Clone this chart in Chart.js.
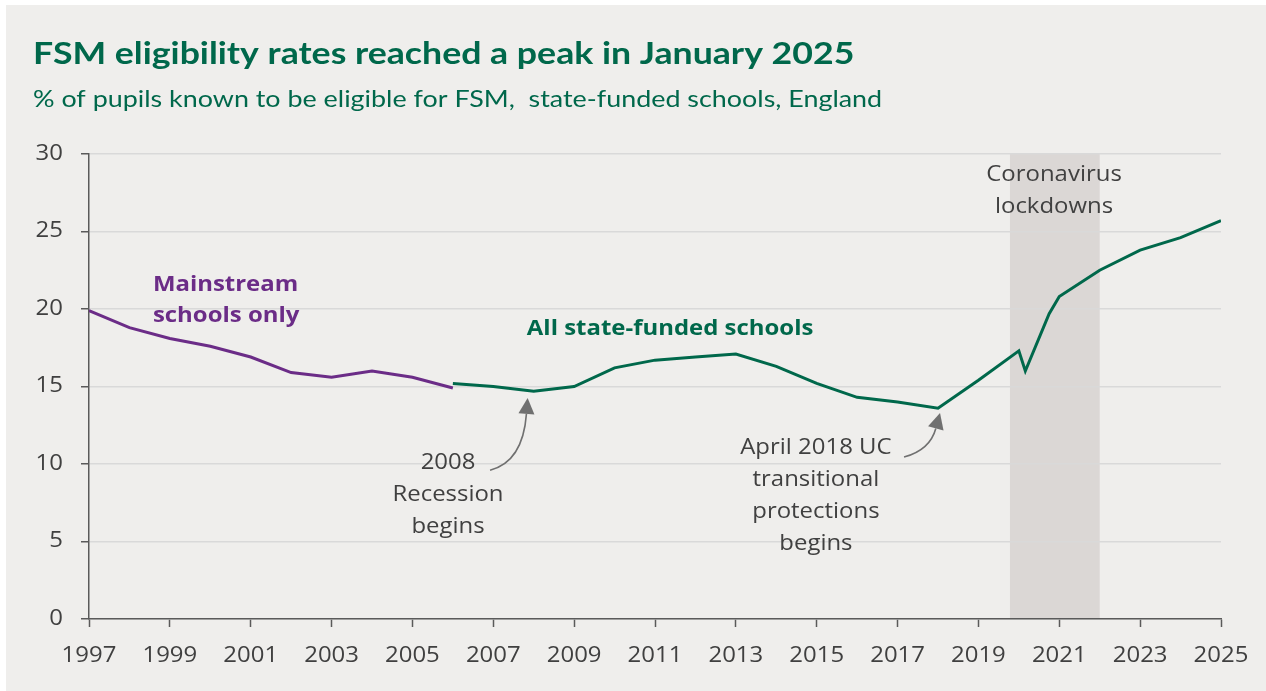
<!DOCTYPE html>
<html>
<head>
<meta charset="utf-8">
<title>FSM eligibility rates</title>
<script src="https://cdn.jsdelivr.net/npm/chart.js@4/dist/chart.umd.min.js"></script>
<style>
  html, body { margin: 0; padding: 0; background: #ffffff; }
  canvas { display: block; }
</style>
</head>
<body>
<canvas id="chart" width="1266" height="691"></canvas>
<script>
// Mainstream schools only, 1997-2006 (% of pupils eligible for FSM)
const mainstreamYears = [1997, 1998, 1999, 2000, 2001, 2002, 2003, 2004, 2005, 2006];
const mainstreamRates = [19.9, 18.8, 18.1, 17.6, 16.9, 15.9, 15.6, 16.0, 15.6, 14.9];

// All state-funded schools, 2006-2025 (extra readings during 2020)
const allYears = [2006, 2007, 2008, 2009, 2010, 2011, 2012, 2013, 2014, 2015, 2016, 2017,
                  2018, 2019, 2020, 2020.16, 2020.75, 2021, 2022, 2023, 2024, 2025];
const allRates = [15.2, 15.0, 14.7, 15.0, 16.2, 16.7, 16.9, 17.1, 16.3, 15.2, 14.3, 14.0,
                  13.6, 15.4, 17.3, 16.0, 19.7, 20.8, 22.5, 23.8, 24.6, 25.7];

// Axis ranges and tick steps
const yearRange = [1997, 2025];
const yearStep = 2;
const rateRange = [0, 30];
const rateStep = 5;

// Coronavirus lockdown period (shaded)
const lockdownSpan = [2019.78, 2022.0];

// Text
const titleText = 'FSM eligibility rates reached a peak in January 2025';
const subtitleText = '% of pupils known to be eligible for FSM,  state-funded schools, England';
const mainstreamLabel = ['Mainstream', 'schools only'];
const allLabel = ['All state-funded schools'];
const recessionNote = ['2008', 'Recession', 'begins'];
const ucNote = ['April 2018 UC', 'transitional', 'protections', 'begins'];
const lockdownNote = ['Coronavirus', 'lockdowns'];

const GREEN = '#00684b';
const PURPLE = '#6b2c87';
const TEXT = '#404040';
const AXIS = '#5a5a5a';
const GRID = '#d9d9d9';
const PANEL = '#efeeec';
const BAND = '#dbd7d5';
const ARROW = '#707070';
const BODY_FONT = '"Open Sans", "Noto Sans", sans-serif';
const HEAD_FONT = 'Lato, "Open Sans", sans-serif';

// Wide set type: glyphs are drawn slightly expanded horizontally
const BODY_STRETCH = 1.14;
const TITLE_STRETCH = 1.15;
const SUBTITLE_STRETCH = 1.12;

function toPoints(xs, ys) {
  return xs.map((x, i) => ({ x: x, y: ys[i] }));
}

function wideText(ctx, text, x, y, align, sx) {
  ctx.save();
  ctx.translate(x, y);
  ctx.scale(sx, 1);
  ctx.textAlign = align;
  ctx.fillText(text, 0, 0);
  ctx.restore();
}

function drawLines(ctx, lines, x, y, lineHeight, align) {
  lines.forEach((t, i) => wideText(ctx, t, x, y + i * lineHeight, align, BODY_STRETCH));
}

// Curved annotation arrow: quadratic curve ending in a filled head
function drawArrow(ctx, sx, sy, cx, cy, tx, ty) {
  const headLen = 16, headHalf = 8;
  const dx = tx - cx, dy = ty - cy;
  const len = Math.hypot(dx, dy);
  const ux = dx / len, uy = dy / len;
  const bx = tx - ux * headLen, by = ty - uy * headLen;
  ctx.save();
  ctx.strokeStyle = ARROW;
  ctx.fillStyle = ARROW;
  ctx.lineWidth = 1.6;
  ctx.beginPath();
  ctx.moveTo(sx, sy);
  ctx.quadraticCurveTo(cx, cy, bx, by);
  ctx.stroke();
  ctx.beginPath();
  ctx.moveTo(tx, ty);
  ctx.lineTo(bx - uy * headHalf, by + ux * headHalf);
  ctx.lineTo(bx + uy * headHalf, by - ux * headHalf);
  ctx.closePath();
  ctx.fill();
  ctx.restore();
}

const backdrop = {
  id: 'backdrop',
  beforeDraw(chart) {
    const { ctx, chartArea, scales } = chart;
    ctx.save();
    ctx.fillStyle = '#ffffff';
    ctx.fillRect(0, 0, chart.width, chart.height);
    ctx.fillStyle = PANEL;
    ctx.fillRect(6, 5, chart.width - 6, chart.height - 5);
    const x0 = scales.x.getPixelForValue(lockdownSpan[0]);
    const x1 = scales.x.getPixelForValue(lockdownSpan[1]);
    ctx.fillStyle = BAND;
    ctx.fillRect(x0, chartArea.top, x1 - x0, chartArea.bottom - chartArea.top);
    ctx.restore();
  }
};

const overlay = {
  id: 'overlay',
  afterDraw(chart) {
    const { ctx, scales, chartArea } = chart;
    const X = v => scales.x.getPixelForValue(v);
    const Y = v => scales.y.getPixelForValue(v);
    ctx.save();

    // Tick labels, set in the same wide type as the notes
    ctx.font = '21px ' + BODY_FONT;
    ctx.fillStyle = TEXT;
    ctx.textBaseline = 'middle';
    scales.x.ticks.forEach(t => {
      wideText(ctx, t.label, X(t.value), chartArea.bottom + 37, 'center', BODY_STRETCH);
    });
    scales.y.ticks.forEach(t => {
      wideText(ctx, t.label, chartArea.left - 26, Y(t.value), 'right', BODY_STRETCH);
    });

    ctx.textBaseline = 'alphabetic';

    // Title and subtitle
    ctx.fillStyle = GREEN;
    ctx.font = 'bold 31px ' + HEAD_FONT;
    wideText(ctx, titleText, 33, 64, 'left', TITLE_STRETCH);
    ctx.font = '24px ' + HEAD_FONT;
    wideText(ctx, subtitleText, 33, 107, 'left', SUBTITLE_STRETCH);

    // Series labels
    ctx.font = 'bold 21px ' + BODY_FONT;
    ctx.fillStyle = PURPLE;
    drawLines(ctx, mainstreamLabel, X(1998.58), Y(21.15), 31, 'left');
    ctx.fillStyle = GREEN;
    drawLines(ctx, allLabel, X(2007.83), Y(18.3), 31, 'left');

    // Notes
    ctx.font = '21px ' + BODY_FONT;
    ctx.fillStyle = TEXT;
    drawLines(ctx, recessionNote, X(2005.88), Y(9.67), 32, 'center');
    drawLines(ctx, ucNote, X(2014.98), Y(10.64), 32, 'center');
    drawLines(ctx, lockdownNote, X(2020.87), Y(28.26), 32, 'center');

    // Arrows pointing at the line
    drawArrow(ctx, X(2006.92), Y(9.6), X(2007.73), Y(10.13), X(2007.85), Y(14.26));
    drawArrow(ctx, X(2017.16), Y(10.45), X(2017.8), Y(10.9), X(2018.05), Y(13.29));
    ctx.restore();
  }
};

function build() {
  const ctx = document.getElementById('chart').getContext('2d');
  new Chart(ctx, {
    type: 'line',
    data: {
      datasets: [
        {
          label: 'Mainstream schools only',
          data: toPoints(mainstreamYears, mainstreamRates),
          borderColor: PURPLE,
          borderWidth: 3,
          pointRadius: 0,
          tension: 0
        },
        {
          label: 'All state-funded schools',
          data: toPoints(allYears, allRates),
          borderColor: GREEN,
          borderWidth: 3,
          pointRadius: 0,
          tension: 0
        }
      ]
    },
    options: {
      responsive: false,
      animation: false,
      devicePixelRatio: 1,
      layout: { padding: { left: 0, right: 45, top: 154, bottom: 0 } },
      plugins: { legend: { display: false }, tooltip: { enabled: false }, title: { display: false } },
      scales: {
        x: {
          type: 'linear',
          min: yearRange[0],
          max: yearRange[1],
          afterFit(scale) { scale.height = 72; },
          ticks: {
            display: false,
            stepSize: yearStep,
            maxTicksLimit: 30,
            autoSkip: false,
            maxRotation: 0,
            callback: v => String(v)
          },
          grid: {
            drawOnChartArea: false,
            drawTicks: true,
            tickLength: 8,
            tickColor: AXIS,
            tickWidth: 1.5
          },
          border: { color: AXIS, width: 1.5 }
        },
        y: {
          min: rateRange[0],
          max: rateRange[1],
          afterFit(scale) { scale.width = 89; },
          ticks: {
            display: false,
            stepSize: rateStep
          },
          grid: {
            color: GRID,
            lineWidth: 1.5,
            drawTicks: true,
            tickLength: 8,
            tickColor: AXIS,
            tickWidth: 1.5
          },
          border: { color: AXIS, width: 1.5 }
        }
      }
    },
    plugins: [backdrop, overlay]
  });
}

Promise.all([
  document.fonts.load('21px "Open Sans"'),
  document.fonts.load('bold 21px "Open Sans"'),
  document.fonts.load('bold 31px Lato'),
  document.fonts.load('24px Lato')
]).then(build, build);
</script>
</body>
</html>
